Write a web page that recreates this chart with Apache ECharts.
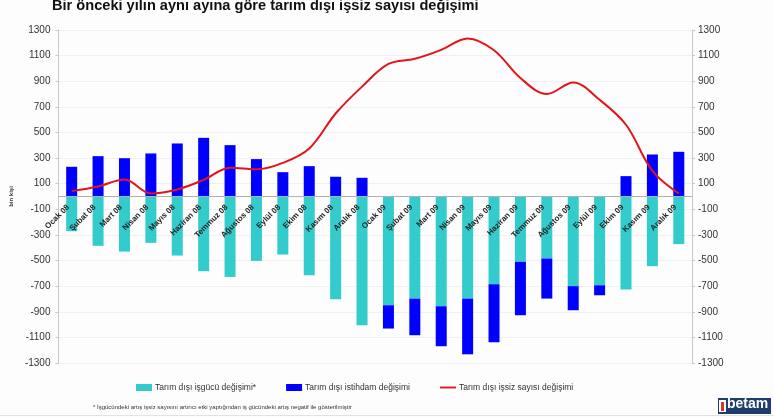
<!DOCTYPE html>
<html>
<head>
<meta charset="utf-8">
<script src="https://cdn.jsdelivr.net/npm/echarts@6/dist/echarts.min.js"></script>
<style>
html,body{margin:0;padding:0;background:#fdfdfd;}
#chart{width:774px;height:418px;}
</style>
</head>
<body>
<div id="chart"></div>
<script>
var categories = ["Ocak 08","Şubat 08","Mart 08","Nisan 08","Mayıs 08","Haziran 08","Temmuz 08","Ağustos 08","Eylül 08","Ekim 08","Kasım 08","Aralık 08",
                  "Ocak 09","Şubat 09","Mart 09","Nisan 09","Mayıs 09","Haziran 09","Temmuz 09","Ağustos 09","Eylül 09","Ekim 09","Kasım 09","Aralık 09"];
var isgucu = [-271,-385,-430,-362,-461,-583,-628,-503,-453,-615,-802,-1005,-849,-797,-857,-797,-685,-510,-484,-700,-693,-727,-544,-372];
var istihdam = [232,315,299,336,414,458,401,292,190,237,154,146,-182,-286,-312,-435,-453,-417,-313,-188,-78,159,328,349];
var issiz = [42,78,133,24,55,130,225,212,262,375,648,858,1035,1075,1145,1234,1142,925,800,890,755,560,200,23];
var seriesNames = ["Tarım dışı işgücü değişimi*","Tarım dışı istihdam değişimi","Tarım dışı işsiz sayısı değişimi"];
var titleText = "Bir önceki yılın aynı ayına göre tarım dışı işsiz sayısı değişimi";
var footnote = "* İşgücündeki artış işsiz sayısını artırıcı etki yaptığından iş gücündeki artış negatif ile gösterilmiştir";
var axisName = "bin kişi";

var chart = echarts.init(document.getElementById('chart'));
function yAxisBase(margin) {
  return {
    type: 'value', min: -1300, max: 1300, interval: 200,
    axisLine: {show: true, lineStyle: {color: '#c8c8c8'}},
    axisTick: {show: true, length: 3, lineStyle: {color: '#c8c8c8'}},
    axisLabel: {fontSize: 10, color: '#333', fontFamily: 'Liberation Sans, Arial', margin: margin,
                formatter: function (v) { return String(v); }},
    splitLine: {show: false}
  };
}
chart.setOption({
  backgroundColor: '#fdfdfd',
  animation: false,
  title: {
    text: titleText, left: 47, top: -7,
    textStyle: {fontSize: 14.6, fontWeight: 'bold', color: '#111', fontFamily: 'Liberation Sans, Arial'}
  },
  legend: {
    left: 131, top: 378, itemGap: 30, itemWidth: 16, itemHeight: 7,
    textStyle: {fontSize: 8.5, color: '#333', fontFamily: 'Liberation Sans, Arial', padding: [0, 0, 0, -2]},
    data: [{name: seriesNames[0], icon: 'rect'}, {name: seriesNames[1], icon: 'rect'},
           {name: seriesNames[2], icon: 'path://M0,0 L17,0 L17,2 L0,2 Z'}]
  },
  grid: {left: 50, right: 82, top: 30, bottom: 55},
  xAxis: {
    type: 'category', data: categories, z: 10,
    position: 'bottom', offset: -166.5,
    axisLine: {onZero: false, lineStyle: {color: '#b0b0b0'}},
    axisTick: {show: false},
    axisLabel: {rotate: 45, fontSize: 8, fontWeight: 'bold', color: '#222', fontFamily: 'Liberation Sans, Arial',
                margin: 6, interval: 0, padding: [0, 5, 0, 0]}
  },
  yAxis: [
    Object.assign(yAxisBase(8), {position: 'left',
      splitLine: {show: true, lineStyle: {color: '#f0f0f0'}},
      name: axisName, nameLocation: 'middle', nameGap: 38, nameRotate: 90,
      nameTextStyle: {fontSize: 6, fontWeight: 'bold', color: '#333'}}),
    Object.assign(yAxisBase(6), {position: 'right'})
  ],
  series: [
    {name: seriesNames[0], type: 'bar', stack: 'a', data: isgucu, barWidth: 11,
     itemStyle: {color: '#33CCCC'}},
    {name: seriesNames[1], type: 'bar', stack: 'a', data: istihdam, barWidth: 11,
     itemStyle: {color: '#0000FF'}},
    {name: seriesNames[2], type: 'line', data: issiz, smooth: 0.35, showSymbol: false, symbol: 'none',
     lineStyle: {color: '#E4141B', width: 2}, itemStyle: {color: '#E4141B'}}
  ],
  graphic: [
    {type: 'text', left: 93, top: 404, style: {text: footnote, fontSize: 6, fill: '#333', fontFamily: 'Liberation Sans, Arial'}},
    {type: 'line', shape: {x1: 0, y1: 415.5, x2: 774, y2: 415.5}, style: {stroke: '#e2e2e2', lineWidth: 1}},
    {type: 'rect', shape: {x: 718, y: 398, width: 53, height: 16}, style: {fill: '#1e3c6e'}},
    {type: 'rect', shape: {x: 719, y: 400, width: 7, height: 12}, style: {fill: '#ffffff'}},
    {type: 'rect', shape: {x: 721, y: 402, width: 3, height: 9}, style: {fill: '#d33'}},
    {type: 'text', left: 727, top: 397, style: {text: 'betam', fontSize: 14, fontWeight: 'bold', fill: '#ffffff', fontFamily: 'Liberation Sans, Arial'}}
  ]
});
</script>
</body>
</html>
